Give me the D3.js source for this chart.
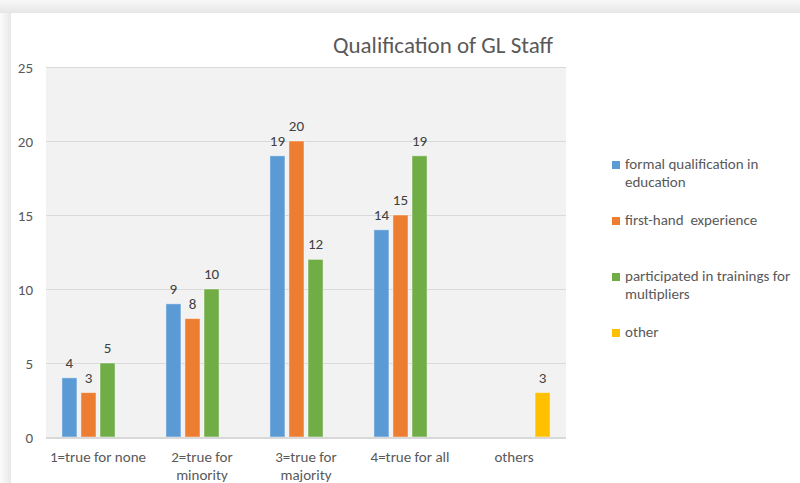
<!DOCTYPE html>
<html>
<head>
<meta charset="utf-8">
<script src="https://cdn.jsdelivr.net/npm/d3@7"></script>
<style>
  html, body { margin: 0; padding: 0; background: #fff; }
  svg { display: block; font-family: Carlito, Calibri, Lato, sans-serif; }
</style>
</head>
<body>
<div id="container"></div>
<script>
/* DATA */
const categories = ["1=true for none", "2=true for minority", "3=true for majority", "4=true for all", "others"];
const categoryLines = [["1=true for none"], ["2=true for", "minority"], ["3=true for", "majority"], ["4=true for all"], ["others"]];
const seriesNames = ["formal qualification in education", "first-hand  experience", "participated in trainings for multipliers", "other"];
const legendLines = [["formal qualification in", "education"], ["first-hand\u00a0\u00a0experience"], ["participated in trainings for", "multipliers"], ["other"]];
const formalValues = [4, 9, 19, 14, null];
const firstHandValues = [3, 8, 20, 15, null];
const trainingValues = [5, 10, 12, 19, null];
const otherValues = [null, null, null, null, 3];
const yTicks = [0, 5, 10, 15, 20, 25];
const colors = ["#5b9bd5", "#ed7d31", "#70ad47", "#ffc000"];

const allValues = [formalValues, firstHandValues, trainingValues, otherValues];

/* CONSTANTS */
const width = 800;
const height = 483;
const plot = { left: 46, right: 566, top: 67, bottom: 437 };

const svg = d3.select("#container")
  .append("svg")
  .attr("width", width)
  .attr("height", height);

// CARD + SHADOW ----------------------------------------
const defs = svg.append("defs");
const gTop = defs.append("linearGradient").attr("id", "shTop").attr("x1", 0).attr("y1", 0).attr("x2", 0).attr("y2", 1);
gTop.append("stop").attr("offset", "0%").attr("stop-color", "#f8f8f8");
gTop.append("stop").attr("offset", "100%").attr("stop-color", "#e6e6e6");
const gLeft = defs.append("linearGradient").attr("id", "shLeft").attr("x1", 0).attr("y1", 0).attr("x2", 1).attr("y2", 0);
gLeft.append("stop").attr("offset", "0%").attr("stop-color", "#fbfbfb");
gLeft.append("stop").attr("offset", "100%").attr("stop-color", "#e8e8e8");

svg.append("rect").attr("x", 0).attr("y", 0).attr("width", width).attr("height", 13).attr("fill", "url(#shTop)");
svg.append("rect").attr("x", 0).attr("y", 13).attr("width", 11).attr("height", height - 13).attr("fill", "url(#shLeft)");
svg.append("rect").attr("x", 11).attr("y", 13).attr("width", width - 11).attr("height", height - 13).attr("fill", "#fff");

/* SCALES */
const xScale = d3.scaleBand()
  .domain(categories)
  .range([plot.left, plot.right]);

const xInner = d3.scaleBand()
  .domain(seriesNames)
  .range([14, xScale.bandwidth() - 14])
  .paddingInner(0.21)
  .paddingOuter(0.1);

const yScale = d3.scaleLinear()
  .domain([0, 25])
  .range([plot.bottom, plot.top]);

// PLOT AREA -----------------------------------------
svg.append("rect")
  .attr("x", plot.left)
  .attr("y", plot.top)
  .attr("width", plot.right - plot.left)
  .attr("height", plot.bottom - plot.top)
  .attr("fill", "#f2f2f2");

// GRIDLINES
svg.append("g")
  .selectAll("line")
  .data(yTicks.filter((d) => d > 0))
  .join("line")
  .attr("x1", plot.left)
  .attr("x2", plot.right)
  .attr("y1", (d) => yScale(d) + 0.5)
  .attr("y2", (d) => yScale(d) + 0.5)
  .attr("stroke", "#d9d9d9")
  .attr("stroke-width", 1);

// Y AXIS
const yAxis = svg.append("g")
  .attr("transform", `translate(${plot.left - 13},0)`)
  .call(d3.axisLeft(yScale).tickValues(yTicks).tickSize(0).tickPadding(0));
yAxis.select(".domain").remove();
yAxis.selectAll("text")
  .attr("fill", "#595959")
  .style("font-size", "15px")
  .style("font-family", "Carlito, Calibri, Lato, sans-serif")
  .attr("dy", "0.35em");

// BARS -----------------------------------------------
const barData = [];
allValues.forEach((vals, s) => {
  vals.forEach((v, c) => {
    if (v !== null) barData.push({ series: seriesNames[s], cat: categories[c], value: v, color: colors[s] });
  });
});

svg.append("g")
  .selectAll("rect")
  .data(barData)
  .join("rect")
  .attr("x", (d) => xScale(d.cat) + xInner(d.series))
  .attr("y", (d) => yScale(d.value))
  .attr("width", xInner.bandwidth())
  .attr("height", (d) => yScale(0) - yScale(d.value))
  .attr("fill", (d) => d.color)
  .attr("stroke", "rgba(255,255,255,0.45)")
  .attr("stroke-width", 1);

// VALUE LABELS
svg.append("g")
  .selectAll("text")
  .data(barData)
  .join("text")
  .attr("x", (d) => xScale(d.cat) + xInner(d.series) + xInner.bandwidth() / 2)
  .attr("y", (d) => yScale(d.value) - 10)
  .attr("text-anchor", "middle")
  .attr("fill", "#404040")
  .style("font-size", "15px")
  .text((d) => d.value);

// X AXIS LINE
svg.append("line")
  .attr("x1", plot.left)
  .attr("x2", plot.right)
  .attr("y1", plot.bottom + 1)
  .attr("y2", plot.bottom + 1)
  .attr("stroke", "#d9d9d9")
  .attr("stroke-width", 2);

// X LABELS
const xLab = svg.append("g")
  .selectAll("text")
  .data(categories)
  .join("text")
  .attr("x", (d) => xScale(d) + xScale.bandwidth() / 2)
  .attr("y", 462)
  .attr("text-anchor", "middle")
  .attr("fill", "#595959")
  .style("font-size", "15px");
xLab.selectAll("tspan")
  .data((d, i) => categoryLines[i])
  .join("tspan")
  .attr("x", function () { return this.parentNode.getAttribute("x"); })
  .attr("dy", (d, i) => (i === 0 ? 0 : 18))
  .text((d) => d);

// TITLE
svg.append("text")
  .attr("x", 443)
  .attr("y", 53)
  .attr("text-anchor", "middle")
  .attr("fill", "#595959")
  .style("font-size", "23px")
  .text("Qualification of GL Staff");

// LEGEND ---------------------------------------------
const legendY = [161, 217, 273, 329];
const legend = svg.append("g")
  .selectAll("g")
  .data(seriesNames)
  .join("g")
  .attr("transform", (d, i) => `translate(612,${legendY[i]})`);

legend.append("rect")
  .attr("width", 8)
  .attr("height", 8)
  .attr("fill", (d, i) => colors[i]);

legend.append("text")
  .attr("x", 13)
  .attr("y", 8)
  .attr("fill", "#595959")
  .style("font-size", "15px")
  .selectAll("tspan")
  .data((d, i) => legendLines[i])
  .join("tspan")
  .attr("x", 13)
  .attr("dy", (d, i) => (i === 0 ? 0 : 18))
  .text((d) => d);
</script>
</body>
</html>
